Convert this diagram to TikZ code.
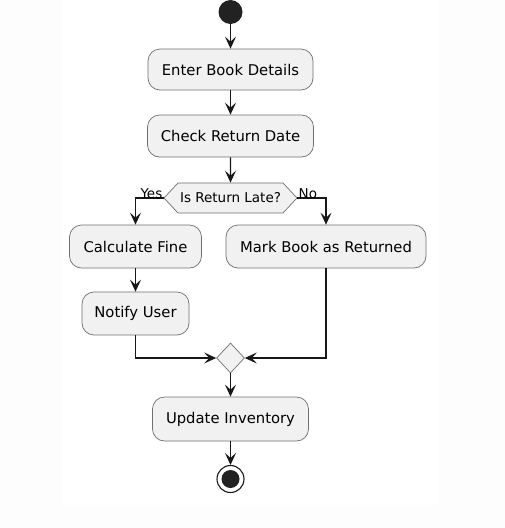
\documentclass[tikz,border=0pt]{standalone}
\usepackage{fontspec}
\setmainfont{DejaVu Sans}
\usetikzlibrary{arrows.meta,shapes.geometric,shapes.symbols}
\definecolor{boxfill}{HTML}{F1F1F1}
\definecolor{boxline}{HTML}{707070}
\definecolor{lineclr}{HTML}{181818}
\definecolor{dotclr}{HTML}{222222}
\definecolor{outerbg}{HTML}{FDFDFD}
\tikzset{
  actbox/.style={draw=boxline, line width=0.7pt, fill=boxfill, rounded corners=12pt,
    inner sep=0pt, font=\fontsize{14.8}{17}\selectfont, text=black},
  flow/.style={draw=lineclr, line width=1.2pt,
    -{Stealth[length=12pt,width=11pt,inset=5pt]}},
  lbl/.style={font=\fontsize{13.5}{15}\selectfont, text=black, inner sep=0pt}
}
\begin{document}
\begin{tikzpicture}[x=1pt,y=-1pt]
\useasboundingbox (0,0) rectangle (505,528);
\fill[outerbg] (0,0) rectangle (505,528);
\fill[white] (62,0) rectangle (438,505);

\node[circle, fill=dotclr, minimum size=24pt, inner sep=0pt] (start) at (230.5,12) {};
\node[actbox, minimum width=165pt, minimum height=41pt] (enter) at (230.5,69.5) {Enter Book Details};
\node[actbox, minimum width=166pt, minimum height=42pt] (check) at (230.5,136) {Check Return Date};
\node[signal, signal to=west and east, signal pointer angle=94, draw=boxline, line width=0.7pt,
  fill=boxfill, minimum width=133pt, minimum height=30pt, inner sep=0pt,
  font=\fontsize{13.5}{15}\selectfont] (dec) at (230.5,198) {Is Return Late?};
\node[actbox, minimum width=132pt, minimum height=43pt] (calc) at (135.5,246.5) {Calculate Fine};
\node[actbox, minimum width=200pt, minimum height=43pt] (mark) at (326,246.5) {Mark Book as Returned};
\node[actbox, minimum width=107pt, minimum height=43pt] (notify) at (135.5,313.5) {Notify User};
\node[diamond, draw=boxline, line width=0.7pt, fill=boxfill, minimum width=28pt,
  minimum height=30pt, inner sep=0pt] (merge) at (230.5,358) {};
\node[actbox, minimum width=156pt, minimum height=44pt] (update) at (230.5,419) {Update Inventory};
\node[circle, draw=lineclr, line width=1.1pt, fill=white, minimum size=27pt, inner sep=0pt] (stop) at (230.5,479) {};
\node[circle, fill=dotclr, minimum size=18pt, inner sep=0pt] (stopdot) at (stop.center) {};

\draw[flow] (start) -- (enter);
\draw[flow] (enter) -- (check);
\draw[flow] (check) -- (dec);
\draw[flow] (dec.west) -| (calc.north);
\draw[flow] (dec.east) -| (mark.north);
\draw[flow] (calc) -- (notify);
\draw[flow] (notify.south) |- (merge.west);
\draw[flow] (mark.south) |- (merge.east);
\draw[flow] (merge) -- (update);
\draw[flow] (update) -- (stop);

\node[lbl, anchor=south east] (yes) at ([xshift=-1pt,yshift=-1pt]dec.west) {Yes};
\node[lbl, anchor=south west] (no) at ([xshift=1pt,yshift=-1pt]dec.east) {No};
\end{tikzpicture}
\end{document}
